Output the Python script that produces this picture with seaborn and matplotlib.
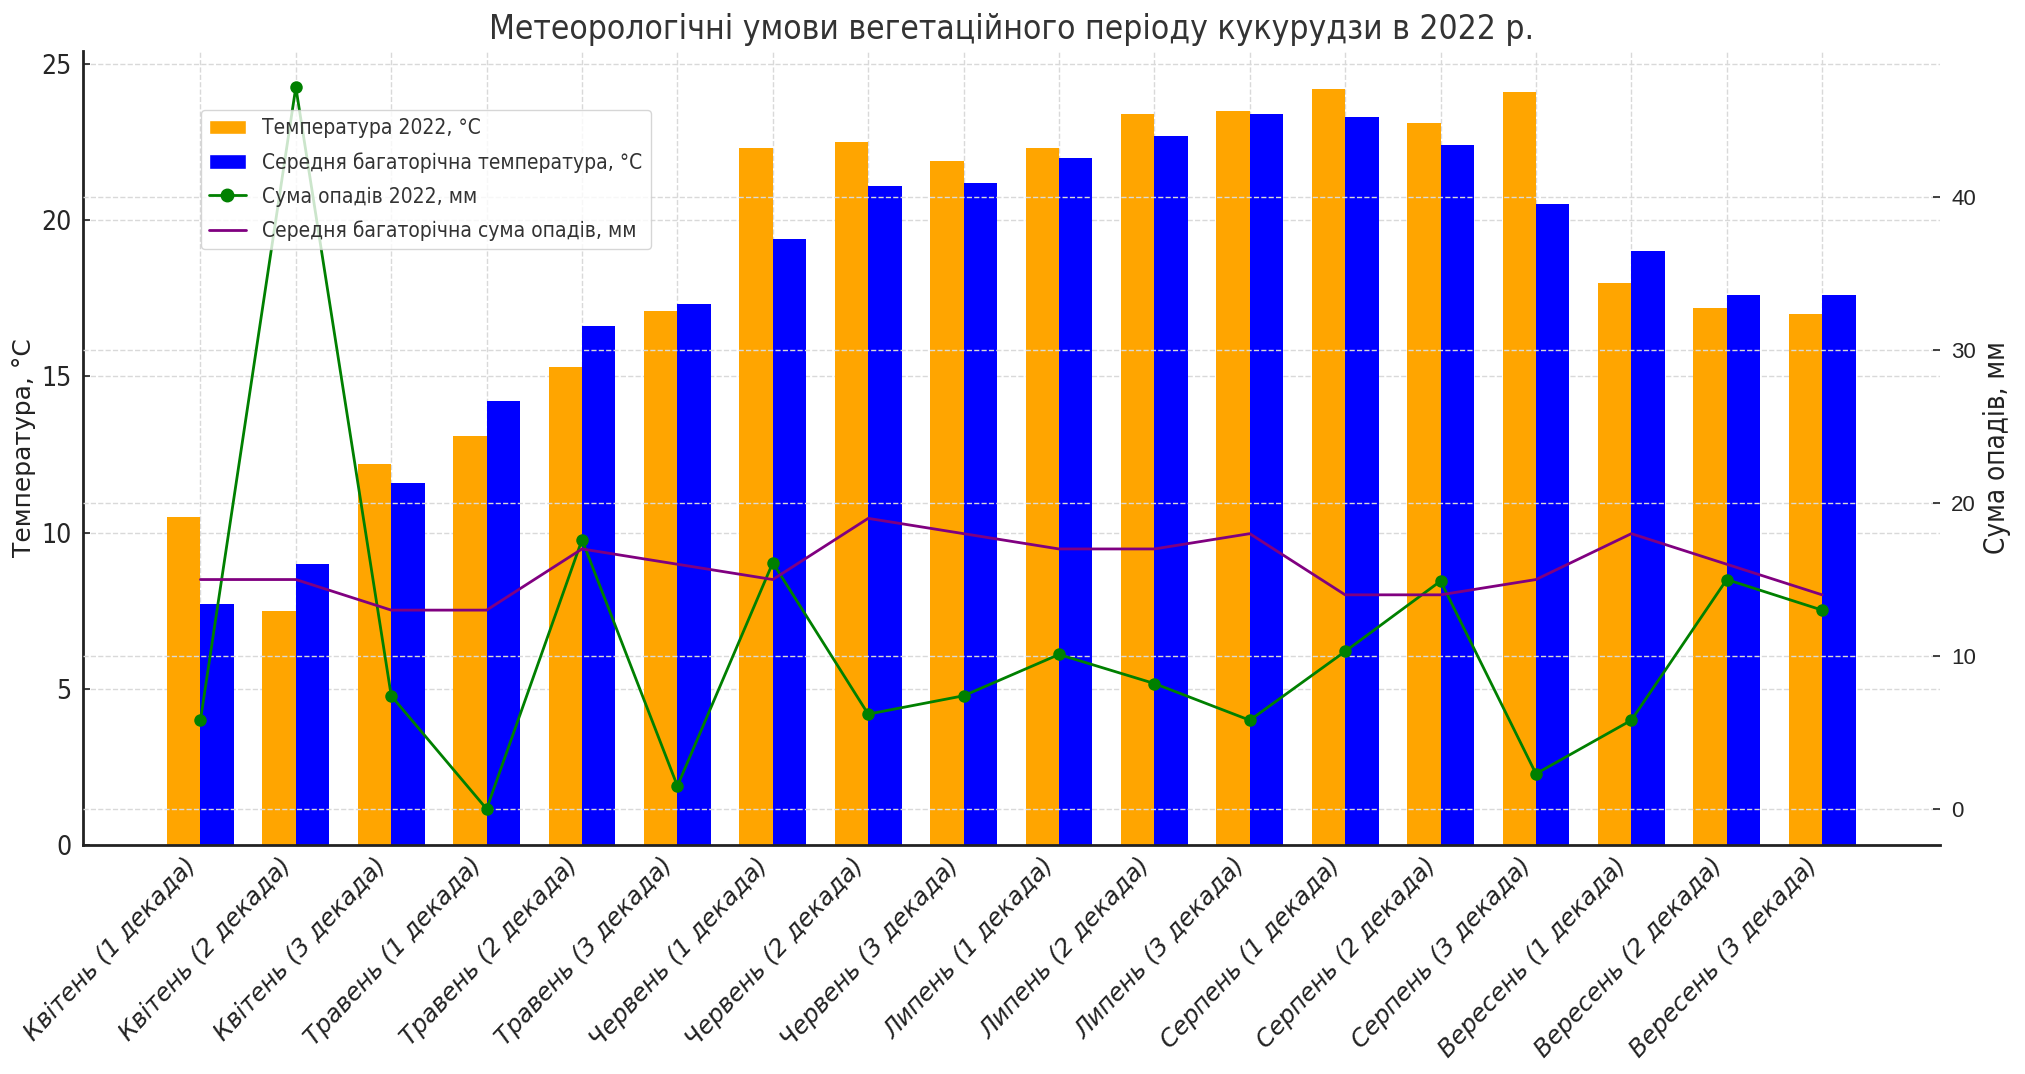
import numpy as np
import pandas as pd
import matplotlib.pyplot as plt
import seaborn as sns
from matplotlib.patches import Patch
from matplotlib.lines import Line2D

# Data
decades = [
    "Квітень (1 декада)", "Квітень (2 декада)", "Квітень (3 декада)",
    "Травень (1 декада)", "Травень (2 декада)", "Травень (3 декада)",
    "Червень (1 декада)", "Червень (2 декада)", "Червень (3 декада)",
    "Липень (1 декада)", "Липень (2 декада)", "Липень (3 декада)",
    "Серпень (1 декада)", "Серпень (2 декада)", "Серпень (3 декада)",
    "Вересень (1 декада)", "Вересень (2 декада)", "Вересень (3 декада)",
]
temp_2022 = [10.5, 7.5, 12.2, 13.1, 15.3, 17.1, 22.3, 22.5, 21.9,
             22.3, 23.4, 23.5, 24.2, 23.1, 24.1, 18.0, 17.2, 17.0]
temp_avg = [7.7, 9.0, 11.6, 14.2, 16.6, 17.3, 19.4, 21.1, 21.2,
            22.0, 22.7, 23.4, 23.3, 22.4, 20.5, 19.0, 17.6, 17.6]
precip_2022 = [5.8, 47.2, 7.4, 0.0, 17.6, 1.5, 16.1, 6.2, 7.4,
               10.1, 8.2, 5.8, 10.3, 14.9, 2.3, 5.8, 15.0, 13.0]
precip_avg = [15, 15, 13, 13, 17, 16, 15, 19, 18,
              17, 17, 18, 14, 14, 15, 18, 16, 14]

lbl_t22 = "Температура 2022, °C"
lbl_tavg = "Середня багаторічна температура, °C"
lbl_p22 = "Сума опадів 2022, мм"
lbl_pavg = "Середня багаторічна сума опадів, мм"

df = pd.DataFrame({
    "decade": decades * 2,
    "temp": temp_2022 + temp_avg,
    "series": [lbl_t22] * len(decades) + [lbl_tavg] * len(decades),
})

sns.set_style("whitegrid", {"grid.linestyle": "--", "grid.color": "#d9d9d9"})
plt.rcParams['font.family'] = ['DejaVu Sans']
cond = {"family": "DejaVu Sans", "stretch": "condensed"}

fig = plt.figure(figsize=(20.25, 10.74), dpi=100)
ax = fig.add_axes([0.0408, 0.2132, 0.9172, 0.7393])

sns.barplot(data=df, x="decade", y="temp", hue="series",
            palette=["orange", "blue"], saturation=1, width=0.7,
            linewidth=0, legend=False, ax=ax)

ax2 = ax.twinx()
x = np.arange(len(decades))
sns.lineplot(x=x, y=precip_2022, color="green", marker="o", markersize=9,
             markeredgewidth=0, linewidth=2, ax=ax2)
sns.lineplot(x=x, y=precip_avg, color="purple", linewidth=2, ax=ax2)
ax.set_xlim(-1.235, 18.235)

# grids
ax.grid(True, linestyle="--", color="#d9d9d9", linewidth=1)
ax2.grid(True, axis="y", linestyle="--", color="#d9d9d9", linewidth=1)
ax2.grid(False, axis="x")

# spines / ticks
for s in ["top", "right"]:
    ax.spines[s].set_visible(False)
for s in ax2.spines.values():
    s.set_visible(False)
for s in ["left", "bottom"]:
    ax.spines[s].set_color("#222222")
    ax.spines[s].set_linewidth(2)

ax.tick_params(axis="y", direction="in", length=5, width=1.2, color="#222222",
               labelsize=19, pad=8)
ax.tick_params(axis="x", length=0, pad=6)
for t in ax.get_yticklabels():
    t.set_fontproperties({**cond, "size": 19})
ax.set_xticks(x)
ax.set_xticklabels(decades, rotation=47, ha="right",
                   fontsize=17.5, style="italic", color="#222222")
ax2.tick_params(axis="y", direction="in", length=5, width=1.2, color="#222222",
                labelsize=16, pad=8)
for t in ax2.get_yticklabels():
    t.set_family("Liberation Sans")
ax2.set_yticks([0, 10, 20, 30, 40])

ax.set_xlabel("")
ax.set_ylabel("Температура, °C", fontsize=18, labelpad=4, color="#222222")
ax2.set_ylabel("Сума опадів, мм", labelpad=5, color="#222222",
               fontproperties={**cond, "size": 20})
ax.set_title("Метеорологічні умови вегетаційного періоду кукурудзи в 2022 р.",
             color="#333333", pad=9, fontproperties={**cond, "size": 24})

handles = [
    Patch(facecolor="orange", label=lbl_t22),
    Patch(facecolor="blue", label=lbl_tavg),
    Line2D([], [], color="green", marker="o", markersize=9, linewidth=2, label=lbl_p22),
    Line2D([], [], color="purple", linewidth=2, label=lbl_pavg),
]
leg = ax2.legend(handles=handles, loc="upper left", bbox_to_anchor=(0.0637, 0.9257),
                 borderaxespad=0, frameon=True, handlelength=1.75, labelspacing=0.66,
                 prop={**cond, "size": 15})
for t in leg.get_texts():
    t.set_color("#333333")

fig.savefig("out.png", dpi=100)
